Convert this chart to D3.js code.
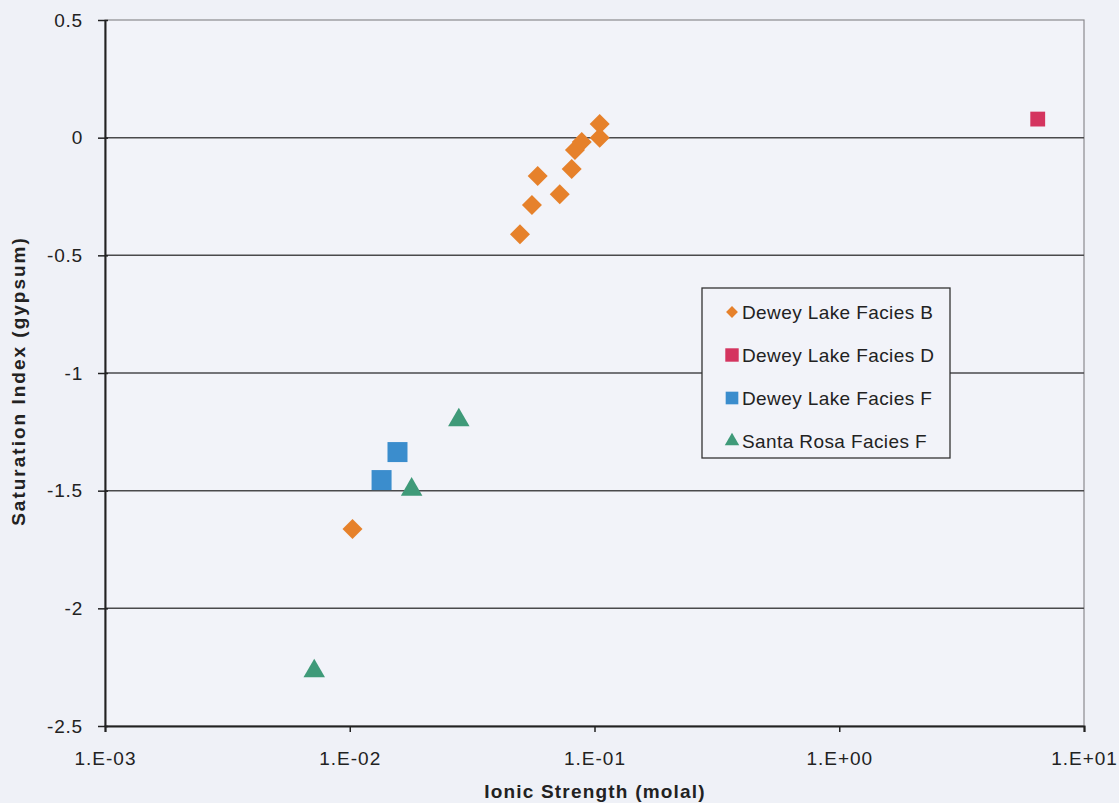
<!DOCTYPE html>
<html>
<head>
<meta charset="utf-8">
<script src="https://cdn.jsdelivr.net/npm/d3@7"></script>
<style>
  body { margin: 0; background: #eff1f7; }
  text { font-family: Arial, "Liberation Sans", sans-serif; fill: #222; }
</style>
</head>
<body>
<div id="chart"></div>
<script>
// series data: ionic strength (molal), saturation index (gypsum)
const faciesB_x = [0.0496, 0.0555, 0.0586, 0.0721, 0.0807, 0.0832, 0.0887, 0.105, 0.105, 0.01026];
const faciesB_y = [-0.41, -0.286, -0.163, -0.24, -0.133, -0.052, -0.018, 0.058, 0.0, -1.663];
const faciesD_x = [6.47];
const faciesD_y = [0.079];
const faciesF_x = [0.01567, 0.01349];
const faciesF_y = [-1.336, -1.455];
const santaRosa_x = [0.0279, 0.0179, 0.00716];
const santaRosa_y = [-1.20, -1.495, -2.267];

const xTicks = [1e-3, 1e-2, 1e-1, 1e0, 1e1];
const xTickLabels = ["1.E-03", "1.E-02", "1.E-01", "1.E+00", "1.E+01"];
const yTicks = [0.5, 0, -0.5, -1, -1.5, -2, -2.5];

// rotate square 45deg for the excel-style diamond
const series = [
  { name: "Dewey Lake Facies B", xs: faciesB_x, ys: faciesB_y, shape: d3.symbolSquare, rot: 45, color: "#e6812b", size: 200, lsize: 70 },
  { name: "Dewey Lake Facies D", xs: faciesD_x, ys: faciesD_y, shape: d3.symbolSquare, rot: 0, color: "#d4345f", size: 220, lsize: 180 },
  { name: "Dewey Lake Facies F", xs: faciesF_x, ys: faciesF_y, shape: d3.symbolSquare, rot: 0, color: "#3b8dcd", size: 400, lsize: 160 },
  { name: "Santa Rosa Facies F", xs: santaRosa_x, ys: santaRosa_y, shape: d3.symbolTriangle, rot: 0, color: "#3f9a79", size: 200, lsize: 90 }
];

const W = 1119, H = 803;
const margin = { top: 20, right: 35, bottom: 77, left: 105 };

const svg = d3.select("#chart").append("svg")
  .attr("width", W).attr("height", H);

const x = d3.scaleLog().domain([1e-3, 1e1]).range([margin.left, W - margin.right]);
const y = d3.scaleLinear().domain([-2.5, 0.5]).range([H - margin.bottom, margin.top]);

// plot area border (top / right lighter)
svg.append("rect")
  .attr("x", x(1e-3)).attr("y", y(0.5))
  .attr("width", x(1e1) - x(1e-3)).attr("height", y(-2.5) - y(0.5))
  .attr("fill", "#f2f3f9").attr("stroke", "#8a8a8e").attr("stroke-width", 1.2);

// gridlines
svg.selectAll(".grid")
  .data(yTicks.filter(d => d > -2.5 && d < 0.5))
  .enter().append("line")
  .attr("x1", x(1e-3)).attr("x2", x(1e1))
  .attr("y1", d => y(d)).attr("y2", d => y(d))
  .attr("stroke", "#4a4a4c").attr("stroke-width", 1.5);

// axes
const yAxis = d3.axisLeft(y).tickValues(yTicks).tickSize(0).tickPadding(22)
  .tickFormat(d => d3.format("")(d).replace("−", "-"));
const yg = svg.append("g").attr("transform", `translate(${x(1e-3)},0)`).call(yAxis);
yg.select(".domain").attr("stroke", "#222").attr("stroke-width", 2);
yg.selectAll("text").attr("font-size", 19).attr("letter-spacing", 0.8).attr("fill", "#222");
yg.selectAll(".tick").append("line")
  .attr("x1", -7).attr("x2", 3).attr("stroke", "#222").attr("stroke-width", 1.5);

const xAxis = d3.axisBottom(x).tickValues(xTicks).tickSize(6).tickPadding(20)
  .tickFormat((d, i) => xTickLabels[i]);
const xg = svg.append("g").attr("transform", `translate(0,${y(-2.5)})`).call(xAxis);
xg.select(".domain").attr("stroke", "#222").attr("stroke-width", 2);
xg.selectAll(".tick line").attr("stroke", "#222").attr("stroke-width", 1.5);
xg.selectAll("text").attr("font-size", 19).attr("letter-spacing", 1).attr("fill", "#222");

// axis titles
svg.append("text")
  .attr("x", 595).attr("y", 798)
  .attr("text-anchor", "middle").attr("font-size", 19).attr("font-weight", "bold")
  .attr("letter-spacing", 1.2)
  .text("Ionic Strength (molal)");
svg.append("text")
  .attr("transform", `translate(25,${(y(0.5) + y(-2.5)) / 2 + 8}) rotate(-90)`)
  .attr("text-anchor", "middle").attr("font-size", 19).attr("font-weight", "bold")
  .attr("letter-spacing", 2)
  .text("Saturation Index (gypsum)");

// points
series.forEach(s => {
  const sym = d3.symbol().type(s.shape).size(s.size);
  svg.append("g").selectAll("path")
    .data(s.xs.map((v, i) => [v, s.ys[i]]))
    .enter().append("path")
    .attr("d", sym)
    .attr("transform", d => `translate(${x(d[0])},${y(d[1])}) rotate(${s.rot})`)
    .attr("fill", s.color);
});

// legend
const lg = svg.append("g").attr("transform", "translate(702,288)");
lg.append("rect").attr("width", 248).attr("height", 170)
  .attr("fill", "#f2f3f9").attr("stroke", "#333").attr("stroke-width", 1.3);
series.forEach((s, i) => {
  const row = lg.append("g").attr("transform", `translate(0,${24 + i * 43})`);
  row.append("path")
    .attr("d", d3.symbol().type(s.shape).size(s.lsize))
    .attr("transform", `translate(30,0) rotate(${s.rot})`)
    .attr("fill", s.color);
  row.append("text").attr("x", 40).attr("y", 7)
    .attr("font-size", 19).attr("letter-spacing", 0.4).text(s.name);
});
</script>
</body>
</html>
